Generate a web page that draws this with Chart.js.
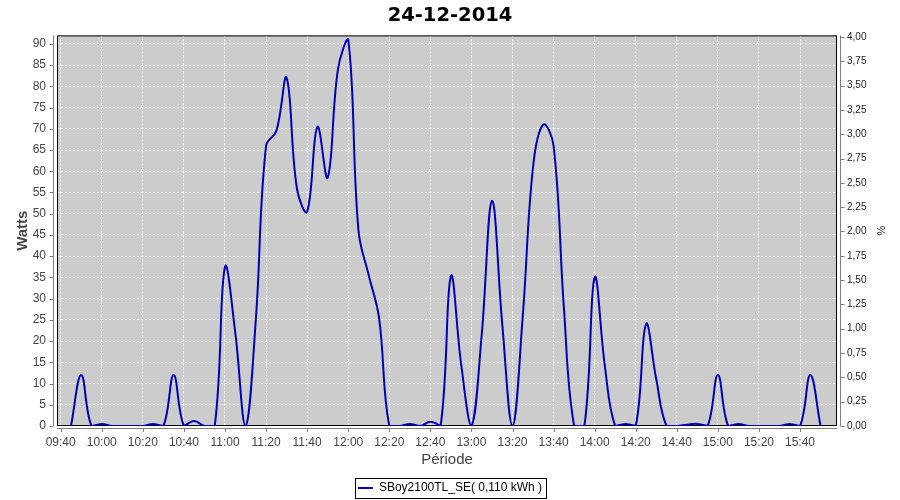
<!DOCTYPE html>
<html>
<head>
<meta charset="utf-8">
<script src="https://cdn.jsdelivr.net/npm/chart.js@4.4.1/dist/chart.umd.min.js"></script>
<style>
    html, body { margin: 0; padding: 0; background: #ffffff; }
</style>
</head>
<body>
<canvas id="powerChart" width="900" height="500"></canvas>
<script>
// Production du 24-12-2014, un relevé toutes les 5 minutes
const heures = [
    '09:45', '09:50', '09:55',
    '10:00', '10:05', '10:10', '10:15', '10:20', '10:25', '10:30', '10:35', '10:40', '10:45', '10:50', '10:55',
    '11:00', '11:05', '11:10', '11:15', '11:20', '11:25', '11:30', '11:35', '11:40', '11:45', '11:50', '11:55',
    '12:00', '12:05', '12:10', '12:15', '12:20', '12:25', '12:30', '12:35', '12:40', '12:45', '12:50', '12:55',
    '13:00', '13:05', '13:10', '13:15', '13:20', '13:25', '13:30', '13:35', '13:40', '13:45', '13:50', '13:55',
    '14:00', '14:05', '14:10', '14:15', '14:20', '14:25', '14:30', '14:35', '14:40', '14:45', '14:50', '14:55',
    '15:00', '15:05', '15:10', '15:15', '15:20', '15:25', '15:30', '15:35', '15:40', '15:45', '15:50'
];
const watts = [
    0, 12, 0,
    0.5, 0, 0, 0, 0, 0.5, 0, 12, 0, 1.2, 0, 0,
    37.5, 22, 0, 25, 66, 69.5, 82, 56, 50.5, 70.5, 58.5, 84,
    91, 46, 35.5, 25.5, 0, 0, 0.5, 0, 1, 0, 35.3, 14.5,
    0, 21.5, 53, 24, 0, 26, 61, 71, 66, 28, 0, 0,
    35, 14, 0, 0.5, 0, 24, 11, 0, 0, 0.3, 0.5, 0,
    12, 0, 0.5, 0, 0, 0, 0, 0.5, 0, 12, 0
];
const xTicks = ['09:40', '10:00', '10:20', '10:40', '11:00', '11:20', '11:40', '12:00', '12:20', '12:40',
    '13:00', '13:20', '13:40', '14:00', '14:20', '14:40', '15:00', '15:20', '15:40'];
const wattTicks = [0, 5, 10, 15, 20, 25, 30, 35, 40, 45, 50, 55, 60, 65, 70, 75, 80, 85, 90];
const pctTicks = [0, 0.25, 0.5, 0.75, 1, 1.25, 1.5, 1.75, 2, 2.25, 2.5, 2.75, 3, 3.25, 3.5, 3.75, 4];

const toMin = (s) => { const p = s.split(':'); return +p[0] * 60 + +p[1]; };
const fmtMin = (v) => String(Math.floor(v / 60)).padStart(2, '0') + ':' + String(Math.round(v % 60)).padStart(2, '0');

Chart.defaults.font.family = "'Liberation Sans', Arial, sans-serif";

// fond gris, cadre noir, axes gris décalés, cadre de la légende
const plotFrame = {
    id: 'plotFrame',
    beforeDraw(chart) {
        const { ctx, chartArea: a } = chart;
        ctx.save();
        ctx.fillStyle = '#cccccc';
        ctx.fillRect(a.left, a.top, a.right - a.left, a.bottom - a.top);
        ctx.restore();
    },
    beforeDatasetsDraw(chart) {
        const { ctx, chartArea: a } = chart;
        ctx.save();
        ctx.strokeStyle = '#000000';
        ctx.lineWidth = 1;
        ctx.strokeRect(a.left + 0.5, a.top + 0.5, a.right - a.left - 1, a.bottom - a.top - 1);
        ctx.restore();
    },
    afterDraw(chart) {
        const { ctx, chartArea: a, scales } = chart;
        ctx.save();
        ctx.strokeStyle = '#808080';
        ctx.lineWidth = 1;
        ctx.beginPath();
        // axe gauche
        ctx.moveTo(a.left - 3.5, a.top); ctx.lineTo(a.left - 3.5, a.bottom);
        scales.y.ticks.forEach(t => {
            const py = Math.round(scales.y.getPixelForValue(t.value)) + 0.5;
            ctx.moveTo(a.left - 3.5, py); ctx.lineTo(a.left - 7.5, py);
        });
        // axe droit
        ctx.moveTo(a.right + 3.5, a.top); ctx.lineTo(a.right + 3.5, a.bottom);
        scales.y1.ticks.forEach(t => {
            const py = Math.round(scales.y1.getPixelForValue(t.value)) + 0.5;
            ctx.moveTo(a.right + 3.5, py); ctx.lineTo(a.right + 7.5, py);
        });
        // axe du bas
        ctx.moveTo(a.left, a.bottom + 2.5); ctx.lineTo(a.right, a.bottom + 2.5);
        scales.x.ticks.forEach(t => {
            const px = Math.round(scales.x.getPixelForValue(t.value)) + 0.5;
            ctx.moveTo(px, a.bottom + 2.5); ctx.lineTo(px, a.bottom + 6);
        });
        ctx.stroke();

        const box = chart.legend.legendHitBoxes[0];
        if (box) {
            ctx.strokeStyle = '#000000';
            ctx.strokeRect(Math.round(box.left) - 2.5, Math.round(box.top) - 3.5,
                Math.round(box.width) + 7, Math.round(box.height) + 8);
        }
        ctx.restore();
    }
};

const powerChart = new Chart(document.getElementById('powerChart'), {
    type: 'line',
    data: {
        datasets: [{
            label: 'SBoy2100TL_SE( 0,110 kWh )',
            data: heures.map((h, i) => ({ x: toMin(h), y: watts[i] })),
            borderColor: '#0000b8',
            backgroundColor: '#0000b8',
            borderWidth: 2,
            pointRadius: 0,
            tension: 0.4,
            fill: false,
            yAxisID: 'y'
        }]
    },
    options: {
        responsive: false,
        animation: false,
        layout: { padding: { left: 0, right: 0, top: 0, bottom: -4 } },
        plugins: {
            title: {
                display: true,
                text: '24-12-2014',
                color: '#000000',
                font: { family: "'DejaVu Sans', sans-serif", size: 19.5, weight: 'bold' },
                padding: { top: 4, bottom: 8 }
            },
            legend: {
                position: 'bottom',
                labels: {
                    usePointStyle: true,
                    pointStyle: 'line',
                    pointStyleWidth: 15,
                    color: '#000000',
                    padding: 6,
                    font: { size: 12 }
                }
            },
            tooltip: { enabled: false }
        },
        scales: {
            x: {
                type: 'linear',
                min: 578.2,
                max: 958,
                afterBuildTicks: (axis) => { axis.ticks = xTicks.map(t => ({ value: toMin(t) })); },
                afterFit: (axis) => { axis.height = 50; },
                ticks: {
                    color: '#444444',
                    font: { size: 12 },
                    padding: 9,
                    maxRotation: 0,
                    autoSkip: false,
                    callback: (v) => fmtMin(v)
                },
                grid: { color: '#ffffff', lineWidth: 1, drawTicks: false },
                border: { display: false, dash: [2, 2] },
                title: {
                    display: true,
                    text: 'Période',
                    color: '#444444',
                    font: { size: 15 },
                    padding: { top: 0, bottom: 7 }
                }
            },
            y: {
                position: 'left',
                min: 0,
                max: 92,
                afterBuildTicks: (axis) => { axis.ticks = wattTicks.map(v => ({ value: v })); },
                afterFit: (axis) => { axis.width = 57; },
                ticks: { color: '#444444', font: { size: 12 }, padding: 11 },
                grid: { color: '#ffffff', lineWidth: 1, drawTicks: false },
                border: { display: false, dash: [2, 2] },
                title: {
                    display: true,
                    text: 'Watts',
                    color: '#444444',
                    font: { size: 15, weight: 'bold' },
                    padding: { top: 14, bottom: 0 }
                }
            },
            y1: {
                position: 'right',
                min: 0,
                max: 4.016,
                afterBuildTicks: (axis) => { axis.ticks = pctTicks.map(v => ({ value: v })); },
                afterFit: (axis) => { axis.width = 63; },
                ticks: {
                    color: '#222222',
                    font: { size: 10 },
                    padding: 10,
                    callback: (v) => v.toLocaleString('fr-FR', { minimumFractionDigits: 2, maximumFractionDigits: 2 })
                },
                grid: { display: false, drawTicks: false },
                border: { display: false },
                title: {
                    display: true,
                    text: '%',
                    color: '#222222',
                    font: { size: 11 },
                    padding: { top: 13, bottom: 0 }
                }
            }
        }
    },
    plugins: [plotFrame]
});
</script>
</body>
</html>
